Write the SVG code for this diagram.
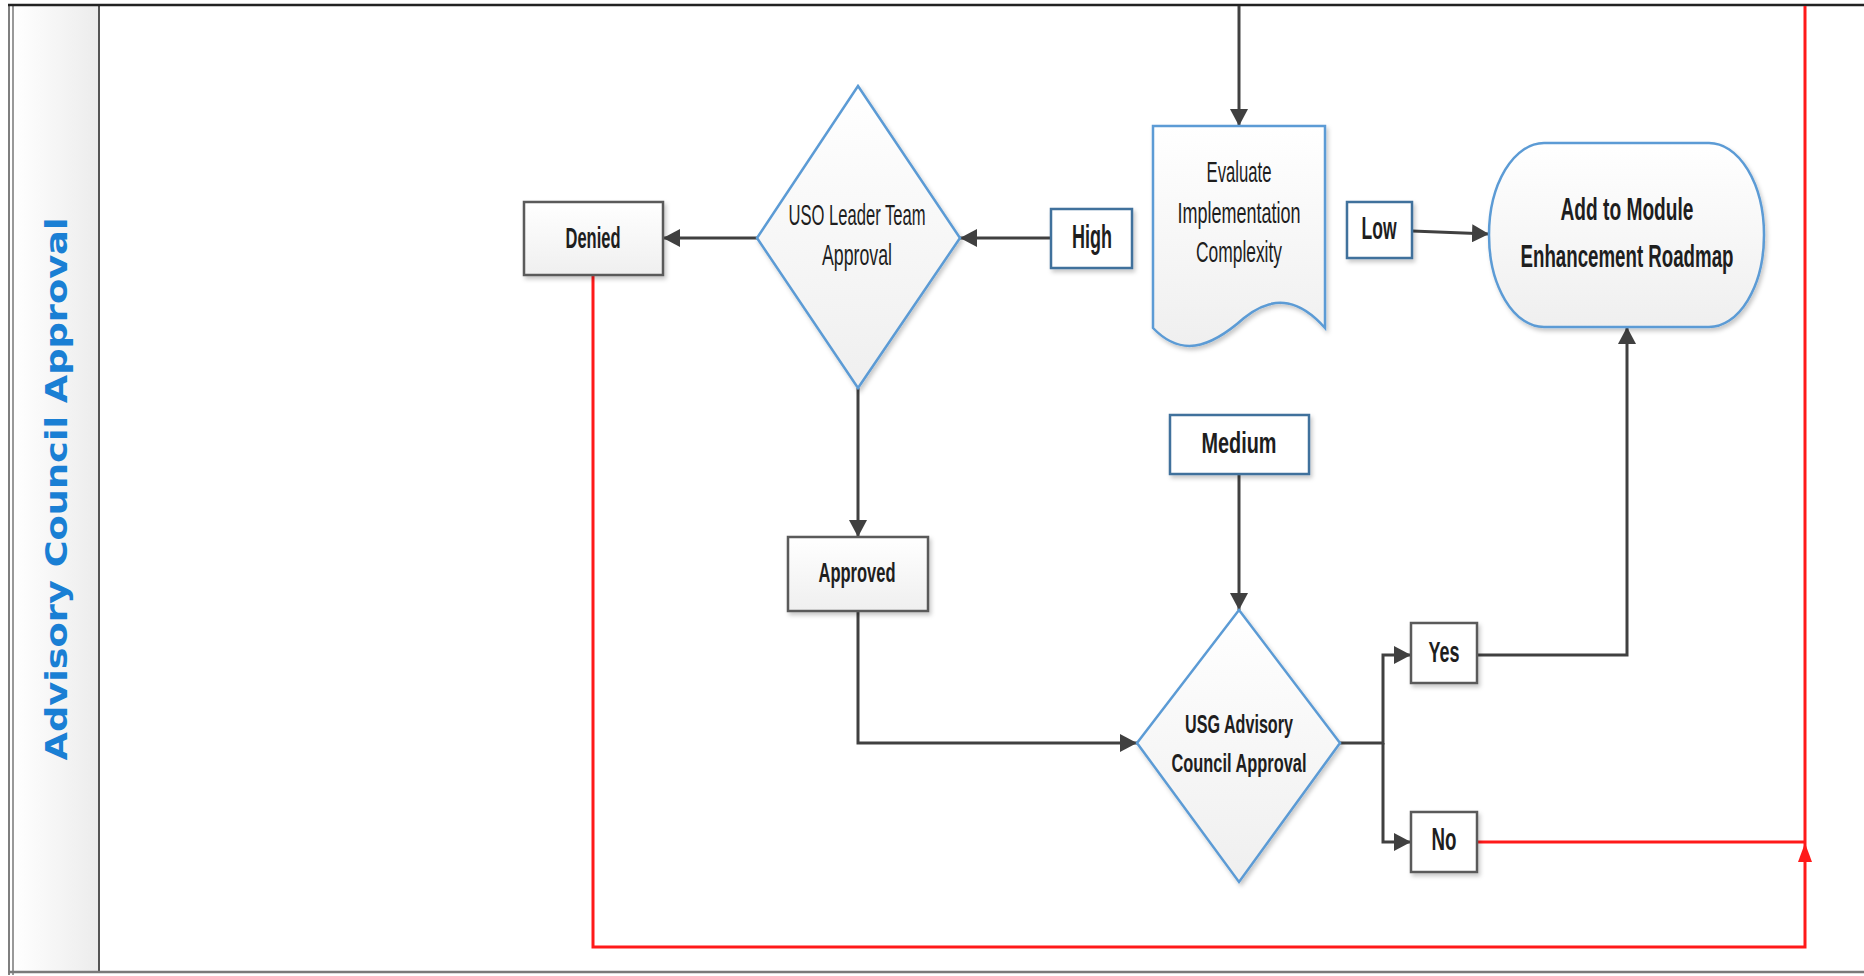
<svg xmlns="http://www.w3.org/2000/svg" width="1864" height="976" viewBox="0 0 1864 976">
<defs>
<linearGradient id="gv" x1="0" y1="0" x2="0" y2="1"><stop offset="0" stop-color="#ffffff"/><stop offset="1" stop-color="#efefef"/></linearGradient>
<linearGradient id="gh" x1="0" y1="0" x2="1" y2="0"><stop offset="0" stop-color="#ffffff"/><stop offset="1" stop-color="#ececec"/></linearGradient>
<filter id="sh" x="-20%" y="-20%" width="140%" height="140%"><feDropShadow dx="2" dy="3" stdDeviation="2" flood-color="#000" flood-opacity="0.22"/></filter>
<marker id="ah" markerUnits="userSpaceOnUse" markerWidth="18" markerHeight="18" refX="17" refY="9" orient="auto"><path d="M0,0 L17,9 L0,18 z" fill="#404040"/></marker>
<marker id="ahr" markerUnits="userSpaceOnUse" markerWidth="20" markerHeight="16" refX="19" refY="8" orient="auto"><path d="M0,1 L19,8 L0,15 z" fill="#ff1a1a"/></marker>
<style>
.proc{fill:url(#gv);stroke:#5a5a5a;stroke-width:2.5;filter:url(#sh)}
.blue{fill:url(#gv);stroke:#5b9bd5;stroke-width:2.5;filter:url(#sh)}
.lbl{fill:#ffffff;stroke:#41719c;stroke-width:2.5;filter:url(#sh)}
.lblg{fill:#ffffff;stroke:#5a5a5a;stroke-width:2.5;filter:url(#sh)}
.t{font-family:"Liberation Sans","DejaVu Sans",sans-serif;fill:#1e1e1e;text-anchor:middle}
.b{font-weight:bold}
.c{fill:none;stroke:#404040;stroke-width:3}
.r{fill:none;stroke:#ff1a1a;stroke-width:3}
</style>
</defs>
<rect x="0" y="0" width="1864" height="976" fill="#ffffff"/>
<g id="frame">
<rect x="13" y="6" width="86" height="966" fill="url(#gh)"/>
<line x1="9" y1="4" x2="9" y2="975" stroke="#555" stroke-width="1.5"/>
<line x1="13" y1="4" x2="13" y2="975" stroke="#777" stroke-width="1.5"/>
<line x1="99" y1="5" x2="99" y2="972" stroke="#555" stroke-width="2"/>
<line x1="8" y1="5" x2="1864" y2="5" stroke="#222" stroke-width="2.5"/>
<line x1="8" y1="972" x2="1864" y2="972" stroke="#7a7a7a" stroke-width="2.5"/>
<text transform="translate(67,489) rotate(-90)" font-family="'DejaVu Sans',Verdana,sans-serif" font-weight="bold" font-size="30" fill="#1a7fd4" text-anchor="middle" textLength="543" lengthAdjust="spacingAndGlyphs">Advisory Council Approval</text>
</g>
<g id="connectors">
<path class="c" d="M1239,6 V126" marker-end="url(#ah)"/>
<path class="c" d="M1051,238 H960" marker-end="url(#ah)"/>
<path class="c" d="M757,238 H663" marker-end="url(#ah)"/>
<path class="c" d="M1412,231 L1489,234" marker-end="url(#ah)"/>
<path class="c" d="M858,388 V537" marker-end="url(#ah)"/>
<path class="c" d="M858,611 V743 H1137" marker-end="url(#ah)"/>
<path class="c" d="M1239,474 V610" marker-end="url(#ah)"/>
<path class="c" d="M1340,743 H1383 V655 H1411" marker-end="url(#ah)"/>
<path class="c" d="M1383,743 V842 H1411" marker-end="url(#ah)"/>
<path class="c" d="M1477,655 H1627 V327" marker-end="url(#ah)"/>
<path class="r" d="M1805,843 V6" stroke-width="2"/>
<path class="r" d="M1477,842 H1805" stroke-width="4"/>
<path class="r" d="M593,275 V947 H1805 V843" marker-end="url(#ahr)"/>
</g>
<g id="denied">
<rect class="proc" x="524" y="202" width="139" height="73"/>
<text class="t b" transform="translate(593,248) scale(0.58,1)" font-size="29" textLength="94.8" lengthAdjust="spacingAndGlyphs">Denied</text>
</g>
<g id="uso-leader">
<polygon class="blue" points="858,86 960,238 858,388 757,238"/>
<text class="t" transform="translate(857,225) scale(0.58,1)" font-size="29" textLength="236.2" lengthAdjust="spacingAndGlyphs">USO Leader Team</text>
<text class="t" transform="translate(857,265) scale(0.58,1)" font-size="29" textLength="120.7" lengthAdjust="spacingAndGlyphs">Approval</text>
</g>
<g id="high">
<rect class="lbl" x="1051" y="209" width="81" height="59"/>
<text class="t b" transform="translate(1092,248) scale(0.58,1)" font-size="33" textLength="69" lengthAdjust="spacingAndGlyphs">High</text>
</g>
<g id="evaluate">
<path class="blue" d="M1153,126 H1325 V328 C1302,302 1276,292 1244,318 C1208,350 1180,356 1153,328 Z"/>
<text class="t" transform="translate(1239,182) scale(0.58,1)" font-size="29" textLength="112.1" lengthAdjust="spacingAndGlyphs">Evaluate</text>
<text class="t" transform="translate(1239,223) scale(0.58,1)" font-size="29" textLength="212.1" lengthAdjust="spacingAndGlyphs">Implementation</text>
<text class="t" transform="translate(1239,262) scale(0.58,1)" font-size="29" textLength="148.3" lengthAdjust="spacingAndGlyphs">Complexity</text>
</g>
<g id="low">
<rect class="lbl" x="1347" y="202" width="65" height="56"/>
<text class="t b" transform="translate(1379,239) scale(0.58,1)" font-size="31" textLength="60.3" lengthAdjust="spacingAndGlyphs">Low</text>
</g>
<g id="roadmap">
<rect class="blue" x="1489" y="143" width="275" height="184" rx="55" ry="92"/>
<text class="t b" transform="translate(1627,220) scale(0.58,1)" font-size="31" textLength="229.3" lengthAdjust="spacingAndGlyphs">Add to Module</text>
<text class="t b" transform="translate(1627,267) scale(0.58,1)" font-size="31" textLength="367.2" lengthAdjust="spacingAndGlyphs">Enhancement Roadmap</text>
</g>
<g id="medium">
<rect class="lbl" x="1170" y="415" width="139" height="59"/>
<text class="t b" transform="translate(1239,453) scale(0.58,1)" font-size="30" textLength="129.3" lengthAdjust="spacingAndGlyphs">Medium</text>
</g>
<g id="approved">
<rect class="proc" x="788" y="537" width="140" height="74"/>
<text class="t b" transform="translate(857,582) scale(0.58,1)" font-size="28" textLength="132.8" lengthAdjust="spacingAndGlyphs">Approved</text>
</g>
<g id="usg-advisory">
<polygon class="blue" points="1239,610 1340,743 1239,882 1137,743"/>
<text class="t b" transform="translate(1239,733) scale(0.58,1)" font-size="26" textLength="186.2" lengthAdjust="spacingAndGlyphs">USG Advisory</text>
<text class="t b" transform="translate(1239,772) scale(0.58,1)" font-size="26" textLength="232.8" lengthAdjust="spacingAndGlyphs">Council Approval</text>
</g>
<g id="yes">
<rect class="lblg" x="1411" y="623" width="66" height="60"/>
<text class="t b" transform="translate(1444,662) scale(0.58,1)" font-size="30" textLength="53.4" lengthAdjust="spacingAndGlyphs">Yes</text>
</g>
<g id="no">
<rect class="lblg" x="1411" y="812" width="66" height="60"/>
<text class="t b" transform="translate(1444,850) scale(0.58,1)" font-size="31" textLength="43.1" lengthAdjust="spacingAndGlyphs">No</text>
</g>
</svg>
